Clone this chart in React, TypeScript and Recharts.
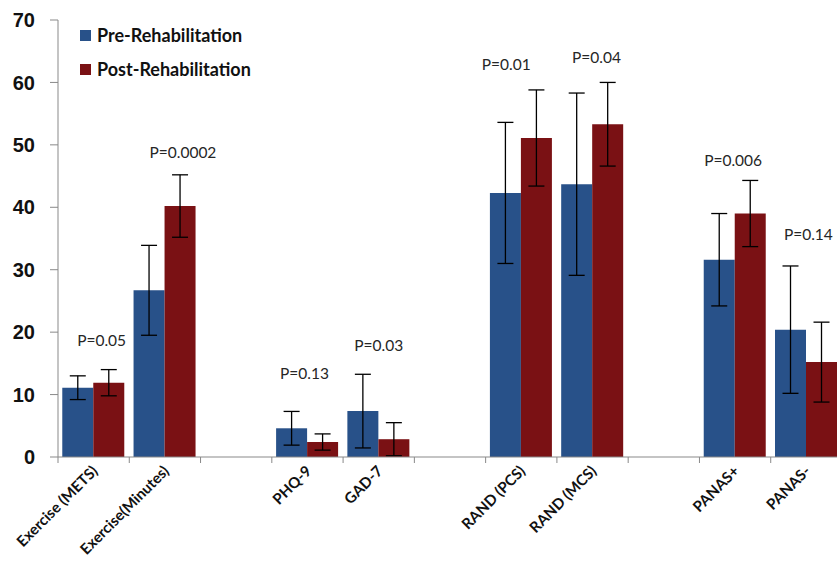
import { ComposedChart, Bar, Line, XAxis, YAxis, ErrorBar, LabelList } from "recharts";

// colours
const PRE_BLUE = "#285189";
const POST_RED = "#7a1114";
const AXIS_GREY = "#898989";

const CATEGORIES = [
  "Exercise (METS)",
  "Exercise(Minutes)",
  "",
  "PHQ-9",
  "GAD-7",
  "",
  "RAND (PCS)",
  "RAND (MCS)",
  "",
  "PANAS+",
  "PANAS-",
];
const PRE = [11.1, 26.7, null, 4.6, 7.35, null, 42.3, 43.7, null, 31.6, 20.4];
const PRE_ERR = [1.9, 7.2, null, 2.7, 5.9, null, 11.3, 14.6, null, 7.4, 10.2];
const POST = [11.9, 40.2, null, 2.4, 2.85, null, 51.1, 53.3, null, 39.0, 15.2];
const POST_ERR = [2.1, 5.0, null, 1.3, 2.65, null, 7.7, 6.7, null, 5.3, 6.4];
const P_VALUES = ["P=0.05", "P=0.0002", null, "P=0.13", "P=0.03", null, "P=0.01", "P=0.04", null, "P=0.006", "P=0.14"];
// height (in y units) where each p-value note sits
const P_AT = [18.8, 48.9, null, 13.5, 18.0, null, 63.0, 64.0, null, 47.6, 35.7];
const Y_TICKS = [0, 10, 20, 30, 40, 50, 60, 70];
const SERIES = [
  { label: "Pre-Rehabilitation", color: PRE_BLUE },
  { label: "Post-Rehabilitation", color: POST_RED },
];

const data = CATEGORIES.map((name, i) => ({
  name,
  pre: PRE[i],
  preErr: PRE_ERR[i],
  post: POST[i],
  postErr: POST_ERR[i],
  p: P_VALUES[i],
  pAt: P_AT[i],
}));

const WIDTH = 850;
const HEIGHT = 562;
const MARGIN = { top: 20, right: 8, left: 0, bottom: 0 };
const Y_AXIS_W = 58;
const BAND = (WIDTH - MARGIN.left - MARGIN.right - Y_AXIS_W) / CATEGORIES.length;

// small horizontal nudges for the p-value notes
const P_DX = [8, 18, 0, -3, 0, 0, -15, 4, 0, -2, 2];

function XTick(props: any) {
  const { x, y, payload, index } = props;
  const last = index === CATEGORIES.length - 1;
  const tx = x + 5;
  const ty = y + 15;
  return (
    <g>
      <line x1={x - BAND / 2} x2={x - BAND / 2} y1={y} y2={y + 6} stroke={AXIS_GREY} />
      {last && <line x1={x + BAND / 2} x2={x + BAND / 2} y1={y} y2={y + 6} stroke={AXIS_GREY} />}
      {payload.value && (
        <text
          x={tx}
          y={ty}
          transform={`rotate(-45 ${tx} ${ty})`}
          textAnchor="end"
          fontFamily="Lato, sans-serif"
          fontWeight="bold"
          fontSize={15}
          fill="#111"
        >
          {payload.value}
        </text>
      )}
    </g>
  );
}

function PLabel(props: any) {
  const { x, y, value, index } = props;
  if (value == null || y == null) return null;
  return (
    <text
      x={x + P_DX[index]}
      y={y}
      textAnchor="middle"
      dominantBaseline="central"
      fontFamily="Lato, sans-serif"
      fontSize={15.5}
      fill="#262626"
    >
      {value}
    </text>
  );
}

export default function App() {
  return (
    <div style={{ position: "absolute", left: 0, top: 0, width: 837, height: 562, overflow: "hidden", background: "#fff" }}>
      <ComposedChart width={WIDTH} height={HEIGHT} data={data} margin={MARGIN} barCategoryGap="6%" barGap={0}>
        <XAxis
          dataKey="name"
          height={105}
          interval={0}
          tickLine={false}
          tickSize={0}
          tickMargin={0}
          axisLine={{ stroke: AXIS_GREY }}
          tick={<XTick />}
        />
        <YAxis
          width={Y_AXIS_W}
          domain={[0, 70]}
          ticks={Y_TICKS}
          interval={0}
          tickSize={8}
          tickMargin={15}
          axisLine={{ stroke: AXIS_GREY }}
          tickLine={{ stroke: AXIS_GREY }}
          tick={{ fontFamily: "Liberation Sans, Arial, sans-serif", fontWeight: "bold", fontSize: 20, fill: "#111" }}
        />
        <Bar dataKey="pre" name="Pre-Rehabilitation" fill={PRE_BLUE} isAnimationActive={false}>
          <ErrorBar dataKey="preErr" width={8} stroke="#000" strokeWidth={1.3} />
        </Bar>
        <Bar dataKey="post" name="Post-Rehabilitation" fill={POST_RED} isAnimationActive={false}>
          <ErrorBar dataKey="postErr" width={8} stroke="#000" strokeWidth={1.3} />
        </Bar>
        <Line
          dataKey="pAt"
          stroke="none"
          dot={false}
          activeDot={false}
          legendType="none"
          isAnimationActive={false}
        >
          <LabelList dataKey="p" content={<PLabel />} />
        </Line>
      </ComposedChart>
      <div style={{ position: "absolute", left: 80, top: 18 }}>
        {SERIES.map((s) => (
          <div key={s.label} style={{ display: "flex", alignItems: "center", height: 34 }}>
            <span style={{ width: 11, height: 11, background: s.color, marginRight: 6 }} />
            <span style={{ fontFamily: "Lato, sans-serif", fontWeight: "bold", fontSize: 18, color: "#111" }}>
              {s.label}
            </span>
          </div>
        ))}
      </div>
    </div>
  );
}
